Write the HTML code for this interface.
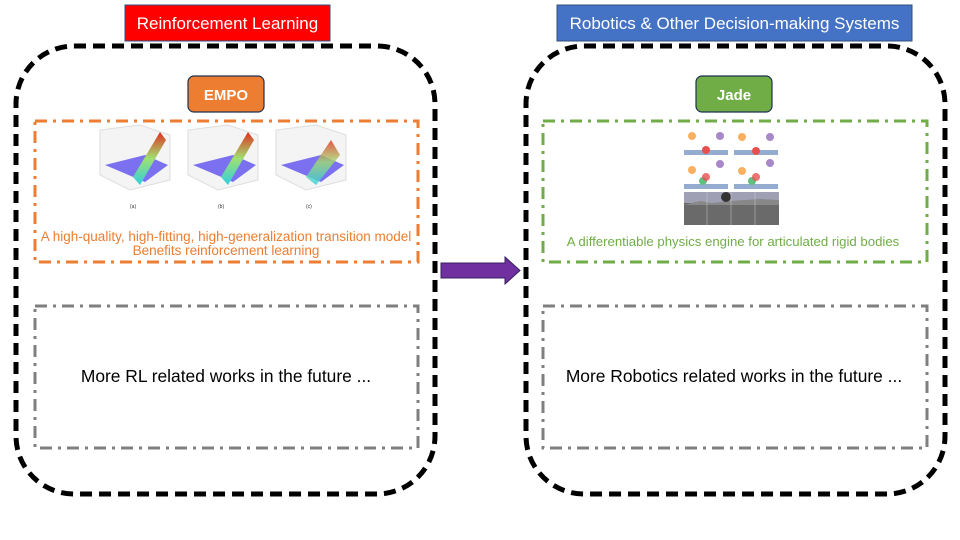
<!DOCTYPE html>
<html><head><meta charset="utf-8"><style>
html,body{margin:0;padding:0;background:#fff;}
svg{display:block;font-family:"Liberation Sans",sans-serif;}
</style></head><body>
<svg width="960" height="540" viewBox="0 0 960 540" xmlns="http://www.w3.org/2000/svg">
<defs>
<linearGradient id="rb" x1="0" y1="1" x2="0" y2="0">
<stop offset="0" stop-color="#30d0e0"/><stop offset="0.5" stop-color="#a0e070"/><stop offset="1" stop-color="#e03020"/></linearGradient>
</defs>
<rect x="16" y="46" width="419" height="448" rx="58" fill="none" stroke="#000" stroke-width="5" stroke-dasharray="12,7"/>
<rect x="526" y="46" width="419" height="448" rx="58" fill="none" stroke="#000" stroke-width="5" stroke-dasharray="12,7"/>
<rect x="125" y="5" width="205" height="36" fill="#ff0000" stroke="#2f4f7f" stroke-width="1"/>
<text x="227.5" y="29" font-size="17" fill="#fff" text-anchor="middle">Reinforcement Learning</text>
<rect x="557" y="5" width="355" height="36" fill="#4472c4" stroke="#2f4f7f" stroke-width="1"/>
<text x="734.5" y="29" font-size="17" fill="#fff" text-anchor="middle">Robotics &amp; Other Decision-making Systems</text>
<rect x="188" y="76" width="76" height="36" rx="6" fill="#ed7d31" stroke="#1f3050" stroke-width="1.2"/>
<text x="226" y="100" font-size="15" font-weight="bold" fill="#fff" text-anchor="middle">EMPO</text>
<rect x="696" y="76" width="76" height="36" rx="6" fill="#70ad47" stroke="#1f3050" stroke-width="1.2"/>
<text x="734" y="100" font-size="15" font-weight="bold" fill="#fff" text-anchor="middle">Jade</text>
<rect x="35" y="121" width="383" height="141" fill="none" stroke="#ed7d31" stroke-width="3" stroke-dasharray="12,6,3,6"/>
<rect x="543" y="121" width="384" height="141" fill="none" stroke="#70ad47" stroke-width="3" stroke-dasharray="12,6,3,6"/>
<rect x="35" y="306" width="383" height="142" fill="none" stroke="#7f7f7f" stroke-width="3" stroke-dasharray="12,6,3,6"/>
<rect x="543" y="306" width="384" height="142" fill="none" stroke="#7f7f7f" stroke-width="3" stroke-dasharray="12,6,3,6"/>
<g>
<g transform="translate(100,130)">
<path d="M0 0 L40 -5 L70 5 L70 50 L30 60 L0 45Z" fill="#f4f4f4" stroke="#ddd"/>
<path d="M5 35 L45 25 L68 35 L45 52 Z" fill="#7a70f0"/>
<path d="M33 47 L60 2 L66 10 L40 55Z" fill="url(#rb)"/>
<text x="30" y="78" font-size="5" fill="#333">(a)</text>
</g>
<g transform="translate(188,130)">
<path d="M0 0 L40 -5 L70 5 L70 50 L30 60 L0 45Z" fill="#f4f4f4" stroke="#ddd"/>
<path d="M5 35 L45 25 L68 35 L45 52 Z" fill="#7a70f0"/>
<path d="M33 47 L60 2 L66 10 L40 55Z" fill="url(#rb)"/>
<text x="30" y="78" font-size="5" fill="#333">(b)</text>
</g>
<g transform="translate(276,130)">
<path d="M0 0 L40 -5 L70 5 L70 50 L30 60 L0 45Z" fill="#f4f4f4" stroke="#ddd"/>
<path d="M5 35 L45 25 L68 35 L45 52 Z" fill="#7a70f0"/>
<path d="M30 47 L55 10 L64 25 L40 55Z" fill="url(#rb)" opacity="0.8"/>
<text x="30" y="78" font-size="5" fill="#333">(c)</text>
</g>
</g>
<text x="226" y="241" font-size="13.5" fill="#ed7d31" text-anchor="middle">A high-quality,  high-fitting,  high-generalization transition model</text>
<text x="226" y="255" font-size="13.5" fill="#ed7d31" text-anchor="middle">Benefits reinforcement learning</text>
<g>
<rect x="684" y="150" width="44" height="5" fill="#94acd0"/><rect x="734" y="150" width="44" height="5" fill="#94acd0"/>
<rect x="684" y="184" width="44" height="5" fill="#94acd0"/><rect x="734" y="184" width="44" height="5" fill="#94acd0"/>
<circle cx="692" cy="136" r="4" fill="#f9b060"/><circle cx="720" cy="136" r="4" fill="#a888c8"/>
<circle cx="706" cy="150" r="4" fill="#e85050"/>
<circle cx="742" cy="137" r="4" fill="#f9b060"/><circle cx="770" cy="137" r="4" fill="#a888c8"/>
<circle cx="756" cy="151" r="4" fill="#e85050"/>
<circle cx="692" cy="170" r="4" fill="#f9b060"/><circle cx="720" cy="164" r="4" fill="#a888c8"/>
<circle cx="703" cy="181" r="4" fill="#60c080"/><circle cx="706" cy="177" r="4" fill="#e85050" opacity="0.8"/>
<circle cx="742" cy="171" r="4" fill="#f9b060"/><circle cx="770" cy="163" r="4" fill="#a888c8"/>
<circle cx="752" cy="181" r="4" fill="#60c080"/><circle cx="756" cy="177" r="4" fill="#e85050" opacity="0.8"/>
<rect x="684" y="192" width="95" height="33" fill="#6a6a6a"/>
<rect x="684" y="192" width="95" height="11" fill="#a0a0b4"/>
<path d="M684 205 L700 201 L712 203 L730 201 L760 199 L779 200 L779 205Z" fill="#888"/>
<circle cx="726" cy="197" r="5" fill="#333"/>
<line x1="707" y1="192" x2="707" y2="225" stroke="#ccc" stroke-width="0.5"/>
<line x1="731" y1="192" x2="731" y2="225" stroke="#ccc" stroke-width="0.5"/>
<line x1="755" y1="192" x2="755" y2="225" stroke="#ccc" stroke-width="0.5"/>
</g>
<text x="733" y="246" font-size="13.2" fill="#70ad47" text-anchor="middle">A differentiable physics engine for articulated rigid bodies</text>
<text x="226" y="382" font-size="17.4" fill="#000" text-anchor="middle">More RL related works in the future ...</text>
<text x="734" y="382" font-size="17.4" fill="#000" text-anchor="middle">More Robotics related works in the future ...</text>
<path d="M441 263 L505 263 L505 257 L520 270.5 L505 284 L505 278 L441 278Z" fill="#7030a0" stroke="#3a2060" stroke-width="1"/>
</svg>
</body></html>
